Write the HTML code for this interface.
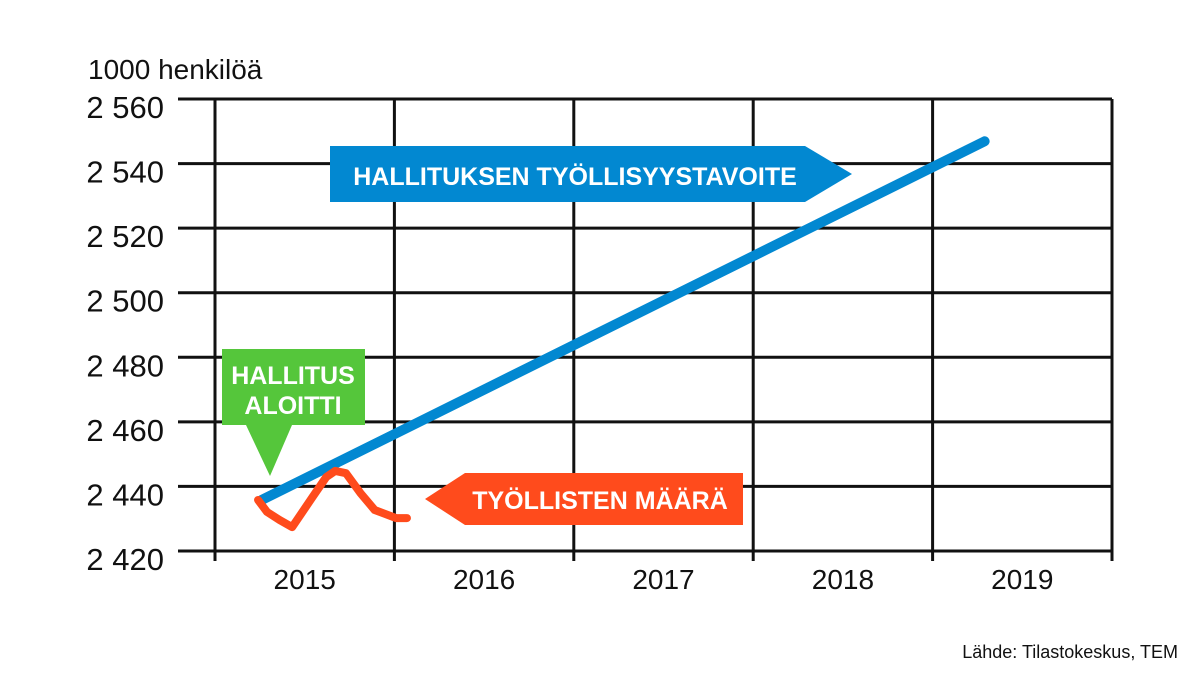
<!DOCTYPE html>
<html><head><meta charset="utf-8"><style>
body{margin:0;background:#fff;width:1198px;height:674px;overflow:hidden}
svg text{font-family:"Liberation Sans",sans-serif}
</style></head><body>
<svg width="1198" height="674" viewBox="0 0 1198 674">
<g id="grid"></g>
<g id="series"></g>
<g id="annotations">
 <g>
  <polygon points="330,146 805,146 852,174 805,202 330,202" fill="#0288d1"/>
  <text x="575" y="185" text-anchor="middle" fill="#fff" font-size="25" font-weight="bold">HALLITUKSEN TYÖLLISYYSTAVOITE</text>
 </g>
 <g>
  <polygon points="222,349 365,349 365,425 292,425 270,476 246,425 222,425" fill="#55c63b"/>
  <text x="293" y="384" text-anchor="middle" fill="#fff" font-size="25" font-weight="bold">HALLITUS</text>
  <text x="293" y="414" text-anchor="middle" fill="#fff" font-size="25" font-weight="bold">ALOITTI</text>
 </g>
 <g>
  <polygon points="425,499 465,473 743,473 743,525 465,525" fill="#ff4b1c"/>
  <text x="600" y="509" text-anchor="middle" fill="#fff" font-size="25" font-weight="bold">TYÖLLISTEN MÄÄRÄ</text>
 </g>
</g>
<text x="88" y="79" font-size="28" fill="#111">1000 henkilöä</text>
<text x="1178" y="658" font-size="18" fill="#111" text-anchor="end">Lähde: Tilastokeskus, TEM</text>
</svg>
<script>
const yTicks=[2420,2440,2460,2480,2500,2520,2540,2560];
const years=[2015,2016,2017,2018,2019];
const targetX=[2015.26,2019.29];
const targetY=[2435.8,2546.9];
const actualX=[2015.24,2015.29,2015.36,2015.43,2015.54,2015.62,2015.67,2015.73,2015.81,2015.89,2016.01,2016.07];
const actualY=[2435.8,2432.1,2429.6,2427.4,2436.4,2442.9,2444.8,2444.1,2438.0,2432.7,2430.2,2430.2];
const NS='http://www.w3.org/2000/svg';
const xS=v=>215+(v-2015)*179.4;
const yS=v=>551-(v-2420)*(452/140);
function mk(t,a,p){const e=document.createElementNS(NS,t);for(const k in a)e.setAttribute(k,a[k]);p.appendChild(e);return e;}
const grid=document.getElementById('grid');
yTicks.forEach(v=>{
 const l=mk('line',{x1:178,x2:1112,y1:yS(v),y2:yS(v),stroke:'#111','stroke-width':3},grid);
 
 
 const t=mk('text',{x:164,y:yS(v)+19,'text-anchor':'end','font-size':31,fill:'#111'},grid);
 t.textContent=String(v).replace(/(\d)(\d{3})$/,'$1 $2');
 
 
});
for(let i=0;i<=years.length;i++){
 const x=xS(2015+i);
 const l=mk('line',{x1:x,x2:x,y1:yS(2560),y2:561,stroke:'#111','stroke-width':3},grid);
 
 
}
years.forEach(y=>{
 const t=mk('text',{x:xS(y+0.5),y:589,'text-anchor':'middle','font-size':28,fill:'#111'},grid);
 t.textContent=y;
 
 
});
const s=document.getElementById('series');
const b=mk('polyline',{points:targetX.map((x,i)=>xS(x)+','+yS(targetY[i])).join(' '),fill:'none',stroke:'#0288d1','stroke-width':10,'stroke-linecap':'round'},s);


const o=mk('polyline',{points:actualX.map((x,i)=>xS(x)+','+yS(actualY[i])).join(' '),fill:'none',stroke:'#ff4b1c','stroke-width':8,'stroke-linecap':'round','stroke-linejoin':'round'},s);


</script>
</body></html>
